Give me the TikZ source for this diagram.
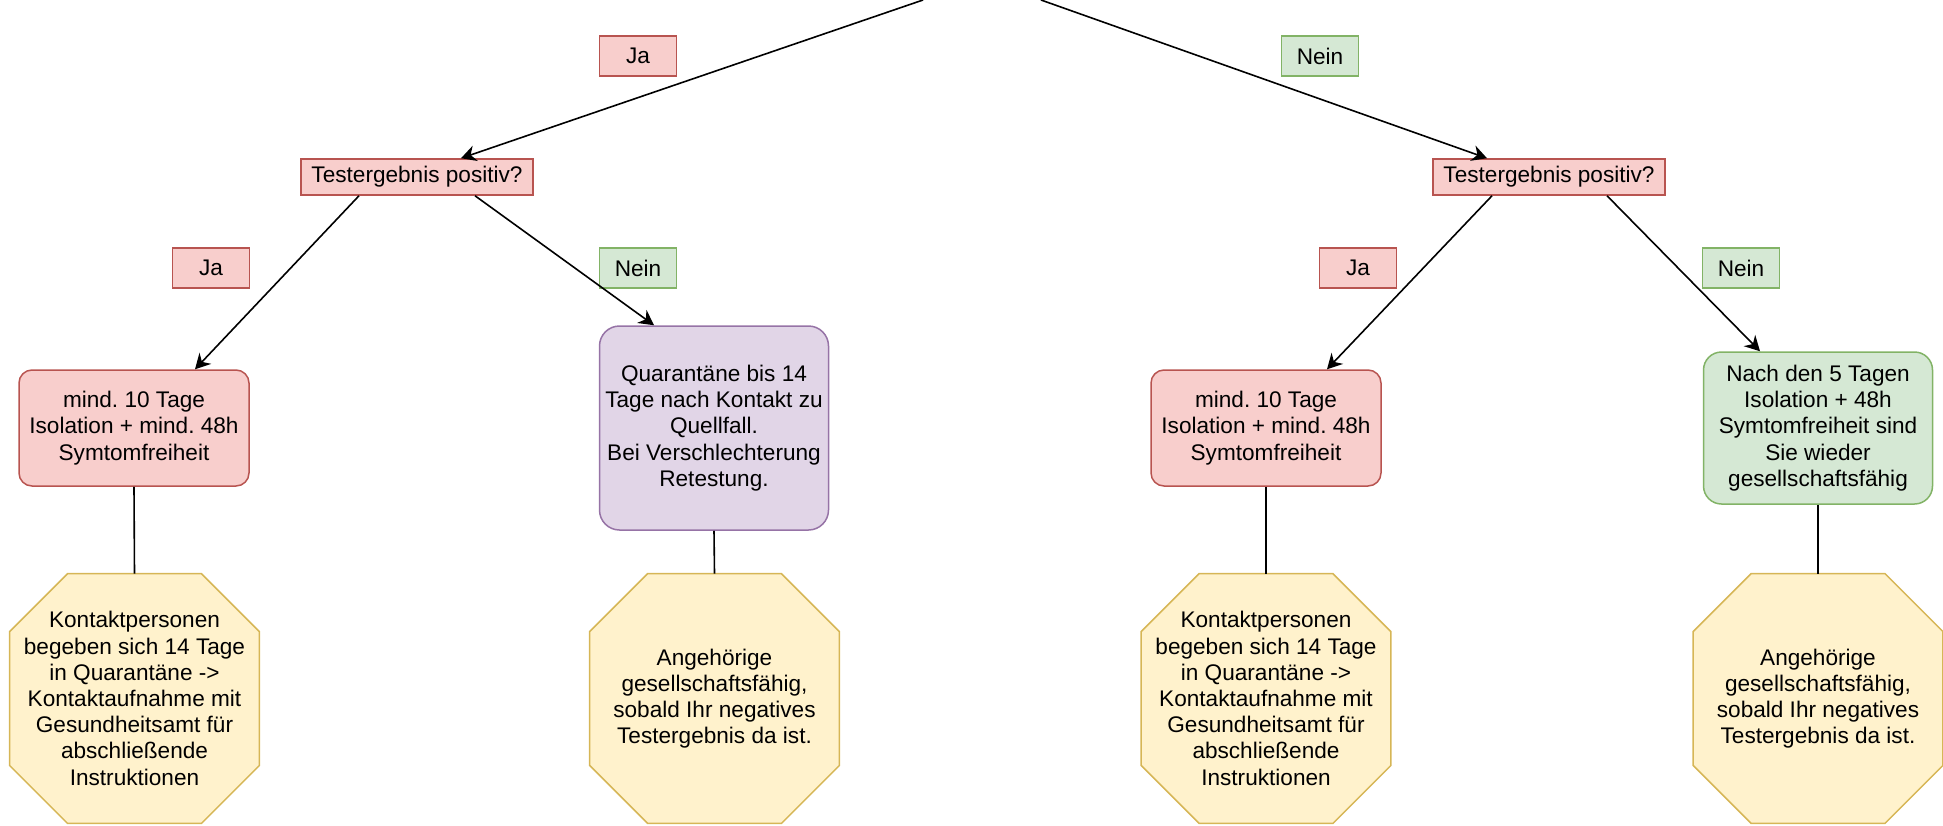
\documentclass[tikz,border=0pt]{standalone}
\usepackage{fontspec}
\setmainfont{Liberation Sans}
\frenchspacing
\usetikzlibrary{arrows.meta,backgrounds}

\definecolor{redfill}{HTML}{F8CECC}
\definecolor{redline}{HTML}{B85450}
\definecolor{greenfill}{HTML}{D5E8D4}
\definecolor{greenline}{HTML}{82B366}
\definecolor{purplefill}{HTML}{E1D5E7}
\definecolor{purpleline}{HTML}{9673A6}
\definecolor{yellowfill}{HTML}{FFF2CC}
\definecolor{yellowline}{HTML}{D6B656}

\tikzset{
	ja/.style={draw=redline,fill=redfill,line width=0.75pt,minimum width=38.5pt,minimum height=20pt,inner sep=0pt},
	nein/.style={draw=greenline,fill=greenfill,line width=0.75pt,minimum width=38.5pt,minimum height=20pt,inner sep=0pt},
	frage/.style={draw=redline,fill=redfill,line width=0.75pt,minimum width=116pt,minimum height=18pt,inner sep=0pt},
	isol/.style={draw=redline,fill=redfill,line width=0.75pt,rounded corners=6.5pt,minimum width=115pt,minimum height=58pt,align=center,inner sep=0pt},
	quar/.style={draw=purpleline,fill=purplefill,line width=0.75pt,rounded corners=10pt,minimum width=114.5pt,minimum height=102pt,align=center,inner sep=0pt},
	frei/.style={draw=greenline,fill=greenfill,line width=0.75pt,rounded corners=9pt,minimum width=114.5pt,minimum height=76pt,align=center,inner sep=0pt},
	hinweis/.style={minimum width=124.5pt,minimum height=124.5pt,align=center,inner sep=0pt},
	achteckrand/.style={draw=yellowline,fill=yellowfill,line width=0.75pt},
	pfeil/.style={-{Stealth[length=7.5pt,width=8pt]},line width=0.8pt},
	kante/.style={line width=0.8pt}
}

\newcommand{\achteck}[1]{%
	\path[achteckrand] ([xshift=29pt]#1.north west) -- ([xshift=-29pt]#1.north east) -- ([yshift=-29pt]#1.north east) -- ([yshift=29pt]#1.south east) -- ([xshift=-29pt]#1.south east) -- ([xshift=29pt]#1.south west) -- ([yshift=29pt]#1.south west) -- ([yshift=-29pt]#1.north west) -- cycle;}

\begin{document}
\begin{tikzpicture}[x=0.5pt,y=-0.5pt,font=\fontsize{11.3}{13.1}\selectfont]
	\useasboundingbox (0,0) rectangle (1943,825);
	\coordinate (topL) at (923,0);
	\coordinate (topR) at (1041,0);
	\node[ja] (jaO) at (638,56) {Ja};
	\node[nein] (neinO) at (1320,56) {Nein};
	\node[frage] (testL) at (417,177) {Testergebnis positiv?};
	\node[frage] (testR) at (1549,177) {Testergebnis positiv?};
	\node[ja] (jaL) at (211,268) {Ja};
	\node[nein] (neinL) at (638,268) {Nein};
	\node[ja] (jaR) at (1358,268) {Ja};
	\node[nein] (neinR) at (1741,268) {Nein};
	\node[isol] (isoL) at (134,428) {mind. 10 Tage\\Isolation + mind. 48h\\Symtomfreiheit};
	\node[quar] (quarL) at (714,428) {Quarantäne bis 14\\Tage nach Kontakt zu\\Quellfall.\\Bei Verschlechterung\\Retestung.};
	\node[isol] (isoR) at (1266,428) {mind. 10 Tage\\Isolation + mind. 48h\\Symtomfreiheit};
	\node[frei] (freiR) at (1818,428) {Nach den 5 Tagen\\Isolation + 48h\\Symtomfreiheit sind\\Sie wieder\\gesellschaftsfähig};
	\node[hinweis] (infoL) at (134.5,698.5) {Kontaktpersonen\\begeben sich 14 Tage\\in Quarantäne ->\\Kontaktaufnahme mit\\Gesundheitsamt für\\abschließende\\Instruktionen};
	\node[hinweis] (infoM) at (714.5,698.5) {Angehörige\\gesellschaftsfähig,\\sobald Ihr negatives\\Testergebnis da ist.};
	\node[hinweis] (infoR) at (1266,698.5) {Kontaktpersonen\\begeben sich 14 Tage\\in Quarantäne ->\\Kontaktaufnahme mit\\Gesundheitsamt für\\abschließende\\Instruktionen};
	\node[hinweis] (infoF) at (1818,698.5) {Angehörige\\gesellschaftsfähig,\\sobald Ihr negatives\\Testergebnis da ist.};
	\begin{scope}[on background layer]
		\achteck{infoL}
		\achteck{infoM}
		\achteck{infoR}
		\achteck{infoF}
	\end{scope}
	\draw[pfeil] (topL) -- ([xshift=22pt]testL.north);
	\draw[pfeil] (topR) -- ([xshift=-31pt]testR.north);
	\draw[pfeil] ([xshift=-29pt]testL.south) -- ([xshift=30.5pt]isoL.north);
	\draw[pfeil] ([xshift=29pt]testL.south) -- ([xshift=-30pt]quarL.north);
	\draw[pfeil] ([xshift=-28.5pt]testR.south) -- ([xshift=30.5pt]isoR.north);
	\draw[pfeil] ([xshift=29pt]testR.south) -- ([xshift=-29pt]freiR.north);
	\draw[kante] (isoL.south) -- (infoL.north);
	\draw[kante] (quarL.south) -- (infoM.north);
	\draw[kante] (isoR.south) -- (infoR.north);
	\draw[kante] (freiR.south) -- (infoF.north);
\end{tikzpicture}
\end{document}
